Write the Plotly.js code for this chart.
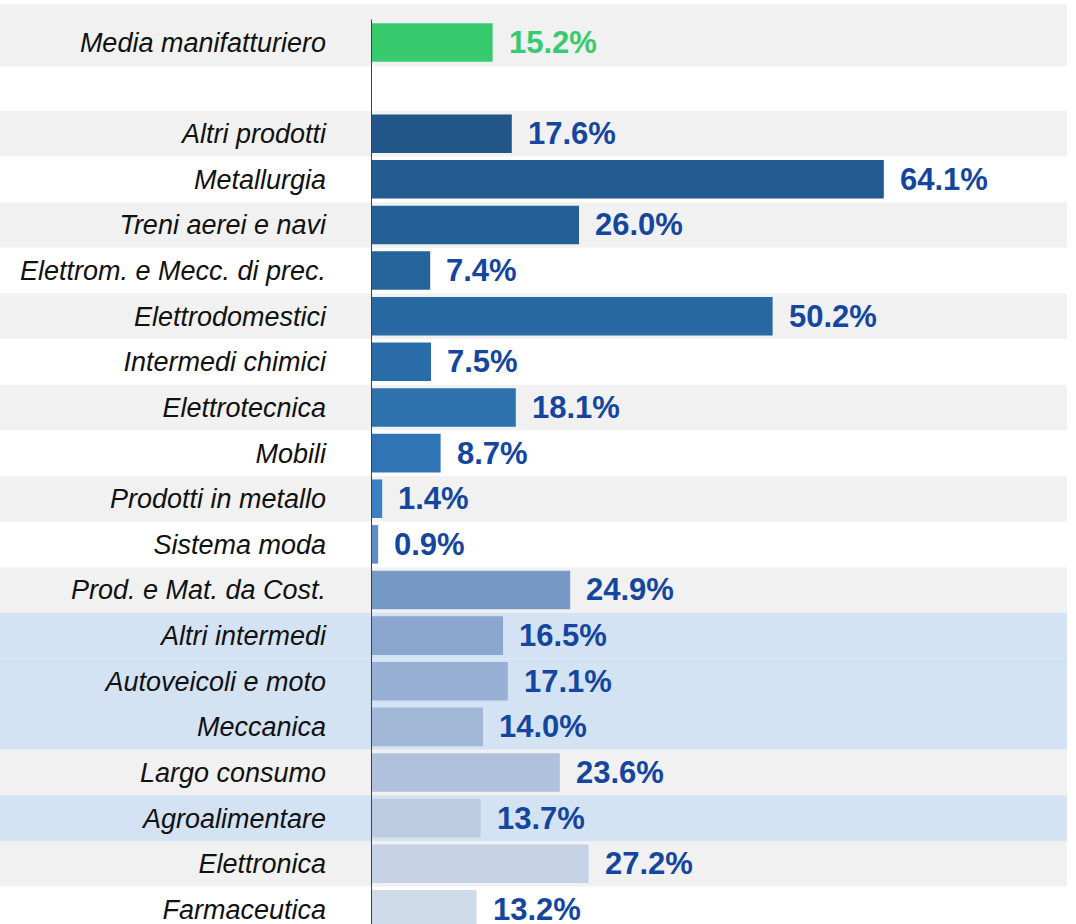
<!DOCTYPE html>
<html>
<head>
<meta charset="utf-8">
<script src="https://cdn.plot.ly/plotly-3.0.1.min.js"></script>
<style>
  body { margin: 0; background: #fff; }
</style>
</head>
<body>
<div id="chart" style="width:1076px;height:924px"></div>
<script>
// average row on top, then a blank spacer, then the sectors
var avgLabel = "Media manifatturiero";
var avgShare = 15.2;

var sectors = ["Altri prodotti", "Metallurgia", "Treni aerei e navi", "Elettrom. e Mecc. di prec.",
  "Elettrodomestici", "Intermedi chimici", "Elettrotecnica", "Mobili", "Prodotti in metallo",
  "Sistema moda", "Prod. e Mat. da Cost.", "Altri intermedi", "Autoveicoli e moto", "Meccanica",
  "Largo consumo", "Agroalimentare", "Elettronica", "Farmaceutica"];
var shares = [17.6, 64.1, 26.0, 7.4, 50.2, 7.5, 18.1, 8.7, 1.4, 0.9, 24.9, 16.5, 17.1, 14.0, 23.6, 13.7, 27.2, 13.2];

// rows with the light blue band
var highlighted = ["Altri intermedi", "Autoveicoli e moto", "Meccanica", "Agroalimentare"];

// styles
var barColors = ["#225689", "#235b90", "#245f96", "#26649c", "#2869a3", "#2a6ca7", "#2d71ad", "#2f75b6",
  "#3d80c1", "#5f8dc4", "#7699c6", "#8ba6cf", "#97afd3", "#a3b8d7", "#b0c1dd", "#bccae2", "#c6d2e5", "#d0dbea"];
var green = "#37ca6e";
var valueBlue = "#1446a0";
var greyBand = "#f0f1f0";
var blueBand = "#d4e3f3";
var spacer = " ";
var fontFam = "Liberation Sans, Arial, sans-serif";

var cats = [avgLabel, spacer].concat(sectors);

var barWidth = 0.845;

var traces = [
  {
    type: "bar", orientation: "h",
    x: [avgShare], y: [avgLabel],
    width: barWidth,
    marker: { color: green },
    hoverinfo: "skip"
  },
  {
    type: "bar", orientation: "h",
    x: shares, y: sectors,
    width: barWidth,
    marker: { color: barColors },
    hoverinfo: "skip"
  }
];

// row background bands (they run under the labels too)
var plotW = 1076 - 371;
var shapes = [];
shapes.push({
  type: "rect", layer: "below", xref: "paper", yref: "y",
  x0: -371 / plotW, x1: (1067 - 371) / plotW, y0: -0.84, y1: 0.52,
  fillcolor: greyBand, line: { width: 0 }
});
sectors.forEach(function (s, i) {
  var col = null;
  if (highlighted.indexOf(s) >= 0) col = blueBand;
  else if (i % 2 === 0) col = greyBand;
  if (!col) return;
  var row = i + 2;
  shapes.push({
    type: "rect", layer: "below", xref: "paper", yref: "y",
    x0: -371 / plotW, x1: (1067 - 371) / plotW, y0: row - 0.5, y1: row + 0.5,
    fillcolor: col, line: { width: 0 }
  });
});
// axis line
shapes.push({
  type: "line", layer: "above", xref: "x", yref: "y",
  x0: 0, x1: 0, y0: -0.5, y1: cats.length,
  line: { color: "#404040", width: 2 }
});

var annotations = [];
annotations.push({
  x: avgShare, y: avgLabel, xref: "x", yref: "y",
  text: avgShare.toFixed(1) + "%", showarrow: false,
  xanchor: "left", yanchor: "middle", xshift: 14,
  font: { family: fontFam, size: 31, color: green, weight: "bold" }
});
sectors.forEach(function (s, i) {
  annotations.push({
    x: shares[i], y: s, xref: "x", yref: "y",
    text: shares[i].toFixed(1) + "%", showarrow: false,
    xanchor: "left", yanchor: "middle", xshift: 14,
    font: { family: fontFam, size: 31, color: valueBlue, weight: "bold" }
  });
});

var layout = {
  width: 1076,
  height: 924,
  margin: { l: 371, r: 0, t: 0, b: 0 },
  paper_bgcolor: "#ffffff",
  plot_bgcolor: "rgba(0,0,0,0)",
  barmode: "overlay",
  showlegend: false,
  font: { family: fontFam },
  xaxis: {
    range: [0, plotW / 8],
    showgrid: false, zeroline: false, showline: false,
    showticklabels: false, ticks: ""
  },
  yaxis: {
    type: "category",
    categoryorder: "array",
    categoryarray: cats,
    range: [19.32, -0.93],
    showgrid: false, zeroline: false, showline: false,
    ticks: "",
    ticklabelstandoff: 44,
    tickfont: { family: fontFam, size: 27, color: "#111111", style: "italic" }
  },
  shapes: shapes,
  annotations: annotations
};

Plotly.newPlot("chart", traces, layout, { displayModeBar: false, staticPlot: true });
</script>
</body>
</html>
